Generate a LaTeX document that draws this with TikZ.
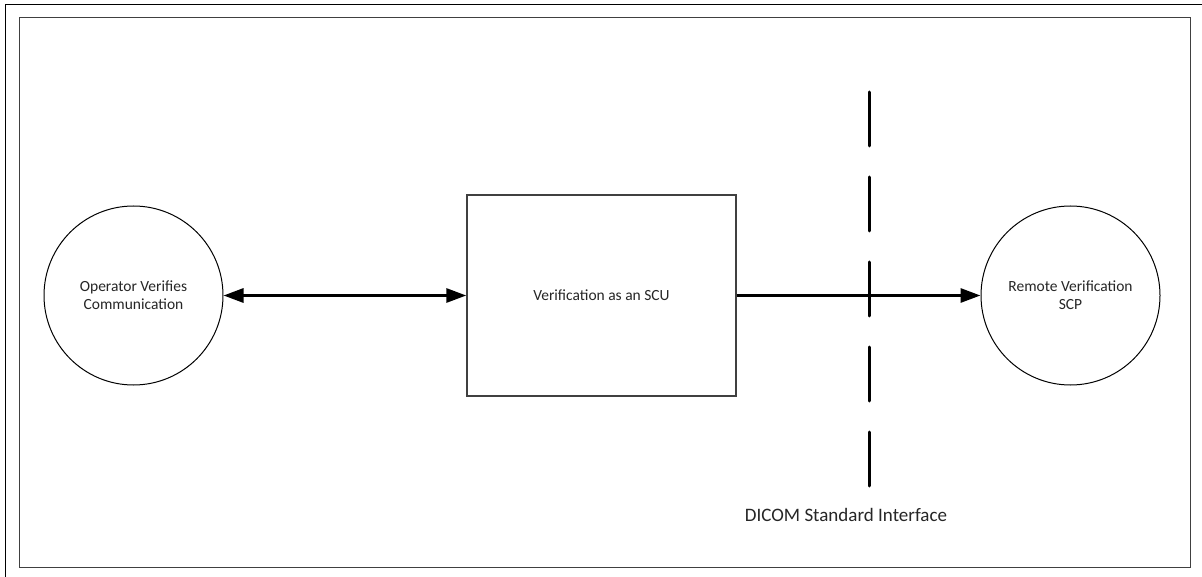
\documentclass[tikz,border=0pt]{standalone}
\usepackage{fontspec}
\setmainfont{Carlito}
\usetikzlibrary{arrows.meta}
\tikzset{
  frameline/.style={draw=black!75, line width=1.4pt},
  proc/.style={circle, draw=black, line width=1pt, minimum size=179pt, inner sep=0pt, align=center, font=\fontsize{15.5}{18}\selectfont, text=black!85},
  boxnode/.style={rectangle, draw=black!75, line width=1.4pt, minimum width=269pt, minimum height=201pt, inner sep=0pt, align=center, font=\fontsize{15.5}{18}\selectfont, text=black!85},
  flow/.style={line width=3pt, -{Triangle[length=20pt,width=14pt]}},
  flowboth/.style={line width=3pt, {Triangle[length=20pt,width=14pt]}-{Triangle[length=20pt,width=14pt]}},
  divider/.style={line width=3pt, dash pattern=on 54pt off 31pt, line cap=round},
}
\begin{document}
\begin{tikzpicture}[x=1pt,y=-1pt]
\useasboundingbox (0,0) rectangle (1202,577);
\fill[white] (0,0) rectangle (1202,577);
% outer frame (clipped at right and bottom)
\draw[line width=1.6pt, black] (5.5,580) -- (5.5,4.5) -- (1205,4.5);
% inner frame
\draw[frameline] (19.5,17.5) rectangle (1190.5,567.5);
% nodes
\node[proc] (op) at (133.5,295.5) {Operator Verifies\\Communication};
\node[boxnode] (scu) at (601.5,295.5) {Verification as an SCU};
\node[proc] (scp) at (1070.5,295.5) {Remote Verification\\SCP};
% divider
\coordinate (dtop) at (869,92);
\coordinate (dbot) at (869,490);
\draw[divider] (dtop) -- (dbot);
\node[font=\fontsize{19}{22}\selectfont, text=black!85] (dicom) at (846,515) {DICOM Standard Interface};
% connectors
\draw[flowboth] (op.east) -- (scu.west);
\draw[flow] (scu.east) -- (scp.west);
\end{tikzpicture}
\end{document}
